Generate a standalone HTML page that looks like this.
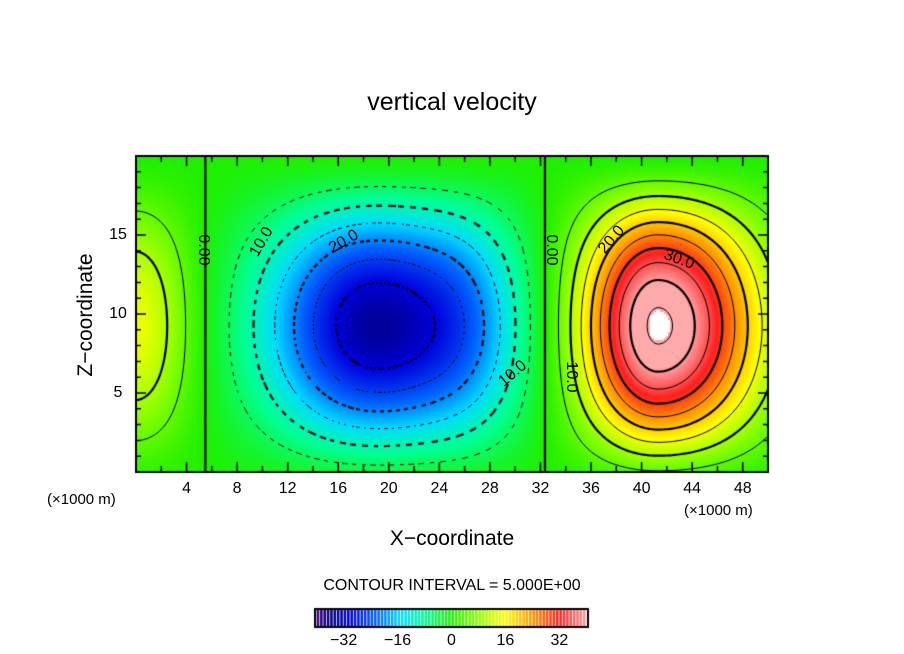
<!DOCTYPE html>
<html><head><meta charset="utf-8"><style>
body{margin:0;background:#fff;width:904px;height:654px;overflow:hidden;position:relative;font-family:"Liberation Sans",sans-serif}
.t{position:absolute;white-space:nowrap;color:#000}
canvas{position:absolute;left:0;top:0}
</style></head><body>
<canvas id="c" width="904" height="654"></canvas>
<div class="t" style="left:0;width:904px;text-align:center;top:88px;font-size:25px">vertical velocity</div>
<div class="t" style="left:0;width:904px;text-align:center;top:527px;font-size:21px">X&#8722;coordinate</div>
<div class="t" style="left:86px;top:315px;font-size:21px;transform:translate(-50%,-50%) rotate(-90deg)">Z&#8722;coordinate</div>
<div class="t" style="left:47px;top:491px;font-size:15px">(×1000 m)</div>
<div class="t" style="left:684px;top:502px;font-size:15px">(×1000 m)</div>
<div class="t" style="left:0;width:904px;text-align:center;top:577px;font-size:16px">CONTOUR INTERVAL = 5.000E+00</div>
<div id="lab"></div>
<script>
// field model: x-lobes (km x1000), amplitudes, widths
const lobeX=[0,18.5,26.5,41.3];
const lobeAmp=[15,-33,-10,46];
const lobeSigL=[3.1,6,3.5,4.2];
const lobeSigR=[3.1,6,3.5,5.5];
const zShift=[1.5], zPow=[1.5];
const xTicks=[4,8,12,16,20,24,28,32,36,40,44,48];
const zTicks=[5,10,15];
const cbTicks=[-32,-16,0,16,32];
const levels=[-35,-30,-25,-20,-15,-10,-5,0,5,10,15,20,25,30,35,40,45];

const L=136,R=768,T=156,B=472,XMAX=50,ZMAX=20;
const sx=x=>L+(x/XMAX)*(R-L), sz=z=>B-(z/ZMAX)*(B-T);
function field(x,z){let s=0;for(let i=0;i<lobeX.length;i++){const d=x-lobeX[i];const sg=d<0?lobeSigL[i]:lobeSigR[i];s+=lobeAmp[i]*Math.exp(-d*d/(2*sg*sg));}
const zz=Math.max(0,Math.sin(Math.PI*(z+zShift[0])/(ZMAX+zShift[0])));return s*Math.pow(zz,zPow[0]);}
const stops=[[-41,[90,0,140]],[-36,[0,0,120]],[-30,[0,0,220]],[-22,[0,100,255]],[-15,[0,220,255]],[-8,[0,255,150]],[0,[30,240,0]],[8,[140,255,0]],[16,[255,255,0]],[24,[255,150,0]],[32,[255,30,30]],[41,[255,170,170]]];
function col(v){if(v>45.3)return[255,255,255];if(v<=stops[0][0])return stops[0][1];for(let i=1;i<stops.length;i++){if(v<=stops[i][0]){const a=stops[i-1],b=stops[i],t=(v-a[0])/(b[0]-a[0]);return a[1].map((c,k)=>Math.round(c+(b[1][k]-c)*t));}}return stops[stops.length-1][1];}
const c=document.getElementById('c'),g=c.getContext('2d');
const CS=2,NX=(R-L)/CS,NZ=(B-T)/CS;
const F=[];for(let j=0;j<=NZ;j++){F.push([]);for(let i=0;i<=NX;i++){F[j].push(field((i*CS)/(R-L)*XMAX,ZMAX-(j*CS)/(B-T)*ZMAX));}}
for(let j=0;j<NZ;j++)for(let i=0;i<NX;i++){const v=(F[j][i]+F[j+1][i+1])/2;const q=col(v);g.fillStyle=`rgb(${q[0]},${q[1]},${q[2]})`;g.fillRect(L+i*CS,T+j*CS,CS,CS);}
// contours (marching squares)
levels.forEach(lv=>{const thick=lv%10===0;g.lineWidth=thick?2.2:1;g.strokeStyle='#000';g.beginPath();
for(let j=0;j<NZ;j++)for(let i=0;i<NX;i++){const a=F[j][i],b=F[j][i+1],cc=F[j+1][i+1],d=F[j+1][i];const p=[];
const ed=(v1,v2,x1,y1,x2,y2)=>{if((v1<lv)!==(v2<lv)){const t=(lv-v1)/(v2-v1);p.push([x1+(x2-x1)*t,y1+(y2-y1)*t]);}};
const X=L+i*CS,Y=T+j*CS;ed(a,b,X,Y,X+CS,Y);ed(b,cc,X+CS,Y,X+CS,Y+CS);ed(cc,d,X+CS,Y+CS,X,Y+CS);ed(d,a,X,Y+CS,X,Y);
if(p.length>=2){if(lv<0){const ang=Math.atan2(p[0][1]-325,p[0][0]-370);const m=Math.floor((ang+Math.PI)*(thick?22:30));if(m%2)continue;}g.moveTo(p[0][0],p[0][1]);g.lineTo(p[1][0],p[1][1]);if(p.length==4){g.moveTo(p[2][0],p[2][1]);g.lineTo(p[3][0],p[3][1]);}}}
g.stroke();});
// frame & ticks
g.lineWidth=2;g.strokeStyle='#000';g.strokeRect(L,T,R-L,B-T);g.lineWidth=1.5;g.beginPath();
for(let x=2;x<XMAX;x+=2){const X=sx(x);const l=x%4===0?10:6;g.moveTo(X,B);g.lineTo(X,B-l);g.moveTo(X,T);g.lineTo(X,T+l);}
for(let z=1;z<ZMAX;z++){const Y=sz(z);const l=z%5===0?10:5;g.moveTo(L,Y);g.lineTo(L+l,Y);g.moveTo(R,Y);g.lineTo(R-l,Y);}
g.stroke();
// colorbar
const CB0=315,CB1=588,CBT=609,CBB=627,vmin=-40.5,vmax=40.5,cx=v=>CB0+(v-vmin)/(vmax-vmin)*(CB1-CB0);
for(let v=-40;v<40;v++){const q=col(v+0.5);g.fillStyle=`rgb(${q[0]},${q[1]},${q[2]})`;g.fillRect(cx(v),CBT,cx(v+1)-cx(v)-0.8,CBB-CBT);}
g.lineWidth=2;g.strokeRect(CB0,CBT,CB1-CB0,CBB-CBT);
const lab=document.getElementById('lab');
function txt(s,x,y,fs,name,rot){const e=document.createElement('div');e.className='t';e.textContent=s;e.style.left=x+'px';e.style.top=y+'px';e.style.fontSize=fs+'px';e.style.transform='translate(-50%,-50%)'+(rot?` rotate(${rot}deg)`:'');e.style.fontFamily='"Liberation Sans",sans-serif';


lab.appendChild(e);return e;}
xTicks.forEach(x=>txt(String(x),sx(x),489,16,'x-tick-label'));
zTicks.forEach(z=>txt(String(z),118,sz(z),16,'y-tick-label'));
cbTicks.forEach(v=>txt(v<0?'\u2212'+(-v):String(v),cx(v),641,16,'colorbar-tick-label'));
const cl=[['0.00',203,250,90],['0.00',551,250,90],['10.0',262,242,-60],['20.0',344,242,-30],['10.0',513,374,-40],['20.0',612,240,-50],['30.0',679,260,20],['10.0',571,377,90]];
cl.forEach(a=>{const e=txt(a[0],a[1],a[2],16,'contour-label',a[3]);});
</script>
</body></html>
